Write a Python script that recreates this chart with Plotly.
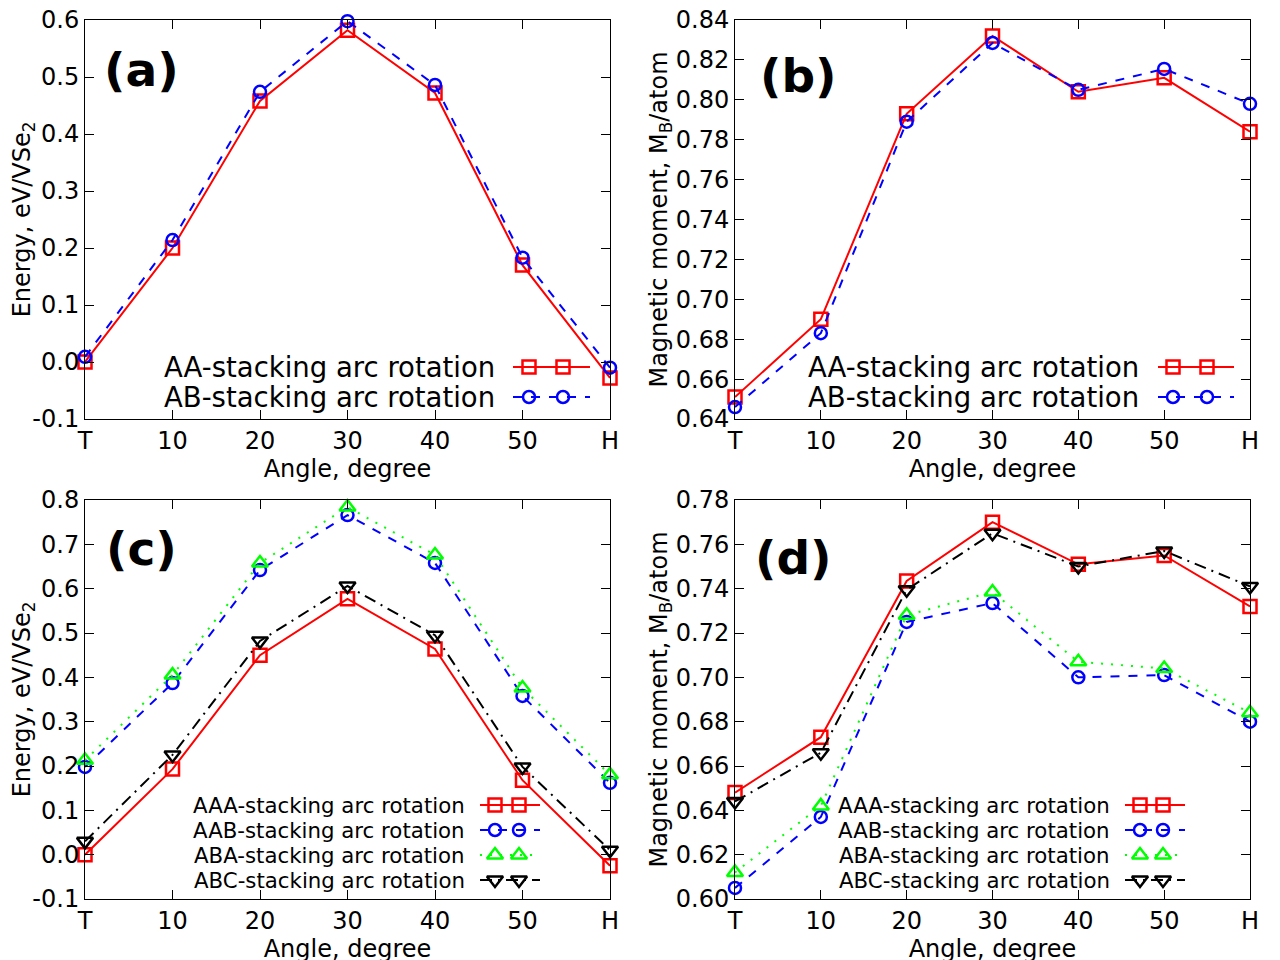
import plotly.graph_objects as go

# ---------------- data ----------------
angles = ["T", "10", "20", "30", "40", "50", "H"]

a_AA = [0.000, 0.200, 0.458, 0.582, 0.472, 0.170, -0.028]
a_AB = [0.009, 0.214, 0.474, 0.598, 0.486, 0.183, -0.010]

b_AA = [0.651, 0.690, 0.793, 0.832, 0.804, 0.811, 0.784]
b_AB = [0.646, 0.683, 0.789, 0.8285, 0.805, 0.8155, 0.798]

c_AAA = [0.000, 0.193, 0.450, 0.577, 0.464, 0.168, -0.025]
c_AAB = [0.198, 0.387, 0.642, 0.766, 0.658, 0.358, 0.162]
c_ABA = [0.213, 0.405, 0.658, 0.784, 0.676, 0.376, 0.180]
c_ABC = [0.030, 0.225, 0.482, 0.606, 0.495, 0.198, 0.010]

d_AAA = [0.648, 0.673, 0.7435, 0.770, 0.751, 0.755, 0.732]
d_AAB = [0.605, 0.637, 0.725, 0.7335, 0.700, 0.701, 0.680]
d_ABA = [0.612, 0.642, 0.728, 0.7385, 0.707, 0.704, 0.684]
d_ABC = [0.644, 0.666, 0.7395, 0.765, 0.750, 0.757, 0.741]

energy_ticks_ab = [-0.1, 0.0, 0.1, 0.2, 0.3, 0.4, 0.5, 0.6]
energy_labels_ab = ["-0.1", "0.0", "0.1", "0.2", "0.3", "0.4", "0.5", "0.6"]
moment_ticks_b = [0.64, 0.66, 0.68, 0.70, 0.72, 0.74, 0.76, 0.78, 0.80, 0.82, 0.84]
moment_labels_b = ["0.64", "0.66", "0.68", "0.70", "0.72", "0.74", "0.76", "0.78", "0.80", "0.82", "0.84"]
energy_ticks_c = [-0.1, 0.0, 0.1, 0.2, 0.3, 0.4, 0.5, 0.6, 0.7, 0.8]
energy_labels_c = ["-0.1", "0.0", "0.1", "0.2", "0.3", "0.4", "0.5", "0.6", "0.7", "0.8"]
moment_ticks_d = [0.60, 0.62, 0.64, 0.66, 0.68, 0.70, 0.72, 0.74, 0.76, 0.78]
moment_labels_d = ["0.60", "0.62", "0.64", "0.66", "0.68", "0.70", "0.72", "0.74", "0.76", "0.78"]

names_2 = ["AA-stacking arc rotation", "AB-stacking arc rotation"]
names_3 = ["AAA-stacking arc rotation", "AAB-stacking arc rotation",
           "ABA-stacking arc rotation", "ABC-stacking arc rotation"]

# ---------------- styles ----------------
W, H = 1280, 960
OFF = 8                      # default body margin of the html page
FONT = "DejaVu Sans"
STY = [
    dict(color="#ff0000", dash="solid", symbol="square-open", size=13),
    dict(color="#0000ff", dash="9px,9px", symbol="circle-open", size=12),
    dict(color="#00ff00", dash="2px,8px", symbol="triangle-up-open", size=14),
    dict(color="#000000", dash="12px,6px,2px,6px", symbol="triangle-down-open", size=14),
]

def px_x(x):
    return (x - OFF) / W

def px_y(y):
    return 1 - (y - OFF) / H

fig = go.Figure()

panels = [
    dict(ax="", series=[a_AA, a_AB], names=names_2, dom_x=(85, 610), dom_y=(20, 419),
         yr=(-0.1, 0.6), tv=energy_ticks_ab, tt=energy_labels_ab,
         ytitle="Energy, eV/VSe<sub>2</sub>", label="(a)", lab_xy=(141, 70),
         leg=dict(tx=497, rows=[367, 397], fs=27.5, l0=513, l1=590, m=[529, 563])),
    dict(ax="2", series=[b_AA, b_AB], names=names_2, dom_x=(735, 1250), dom_y=(20, 419),
         yr=(0.64, 0.84), tv=moment_ticks_b, tt=moment_labels_b,
         ytitle="Magnetic moment, M<sub>B</sub>/atom", label="(b)", lab_xy=(798, 76),
         leg=dict(tx=1141, rows=[367, 397], fs=27.5, l0=1158, l1=1234, m=[1173, 1207])),
    dict(ax="3", series=[c_AAA, c_AAB, c_ABA, c_ABC], names=names_3, dom_x=(85, 610), dom_y=(500, 899),
         yr=(-0.1, 0.8), tv=energy_ticks_c, tt=energy_labels_c,
         ytitle="Energy, eV/VSe<sub>2</sub>", label="(c)", lab_xy=(141, 548),
         leg=dict(tx=467, rows=[805, 830, 855, 880], fs=21.3, l0=480, l1=540, m=[495, 519])),
    dict(ax="4", series=[d_AAA, d_AAB, d_ABA, d_ABC], names=names_3, dom_x=(735, 1250), dom_y=(500, 899),
         yr=(0.60, 0.78), tv=moment_ticks_d, tt=moment_labels_d,
         ytitle="Magnetic moment, M<sub>B</sub>/atom", label="(d)", lab_xy=(793, 557),
         leg=dict(tx=1112, rows=[805, 830, 855, 880], fs=21.3, l0=1125, l1=1185, m=[1140, 1163])),
]

layout_axes = {}
annotations = []

for p in panels:
    xa = "x" + p["ax"]
    ya = "y" + p["ax"]
    for s, (vals, name) in enumerate(zip(p["series"], p["names"])):
        st = STY[s]
        fig.add_trace(go.Scatter(
            x=angles, y=vals, name=name, mode="lines+markers",
            xaxis=xa, yaxis=ya, cliponaxis=False, showlegend=False,
            line=dict(color=st["color"], width=2, dash=st["dash"]),
            marker=dict(symbol=st["symbol"], size=st["size"], color=st["color"],
                        line=dict(color=st["color"], width=2.5)),
        ))
    axis_common = dict(
        showline=True, linecolor="black", linewidth=1, mirror="allticks",
        ticks="inside", ticklen=9, tickwidth=1, tickcolor="black",
        showgrid=False, zeroline=False, automargin=False, ticklabeloverflow="allow",
        tickfont=dict(family=FONT, size=24, color="black"),
    )
    layout_axes["xaxis" + p["ax"]] = dict(
        axis_common, type="category", range=[0, 6],
        domain=[px_x(p["dom_x"][0]), px_x(p["dom_x"][1])],
        anchor=ya,
        title=dict(text="Angle, degree", font=dict(family=FONT, size=24, color="black"), standoff=0),
    )
    layout_axes["yaxis" + p["ax"]] = dict(
        axis_common, range=list(p["yr"]), tickvals=p["tv"], ticktext=p["tt"],
        domain=[px_y(p["dom_y"][1]), px_y(p["dom_y"][0])],
        anchor=xa,
        title=dict(text=p["ytitle"], font=dict(family=FONT, size=24, color="black"), standoff=0),
    )
    # panel label
    annotations.append(dict(
        text="<b>%s</b>" % p["label"], xref="paper", yref="paper",
        x=px_x(p["lab_xy"][0]), y=px_y(p["lab_xy"][1]), xanchor="center", yanchor="middle",
        showarrow=False, font=dict(family=FONT, size=47, color="black"),
    ))
    # custom legend (text right-aligned, sample on the right)
    lg = p["leg"]
    for s, name in enumerate(p["names"]):
        st = STY[s]
        ry = lg["rows"][s]
        annotations.append(dict(
            text=name, xref="paper", yref="paper", x=px_x(lg["tx"]), y=px_y(ry),
            xanchor="right", yanchor="middle", showarrow=False,
            font=dict(family=FONT, size=lg["fs"], color="black"),
        ))
        fig.add_trace(go.Scatter(
            x=[lg["l0"], lg["l1"]], y=[ry, ry], mode="lines", xaxis="x5", yaxis="y5",
            showlegend=False, hoverinfo="skip",
            line=dict(color=st["color"], width=2, dash=st["dash"]),
        ))
        fig.add_trace(go.Scatter(
            x=lg["m"], y=[ry, ry], mode="markers", xaxis="x5", yaxis="y5",
            showlegend=False, hoverinfo="skip", cliponaxis=False,
            marker=dict(symbol=st["symbol"], size=st["size"], color=st["color"],
                        line=dict(color=st["color"], width=2.5)),
        ))

# overlay axes in page-pixel units for the legend key glyphs
layout_axes["xaxis5"] = dict(domain=[0, 1], range=[OFF, OFF + W], visible=False, anchor="y5",
                             fixedrange=True, automargin=False)
layout_axes["yaxis5"] = dict(domain=[0, 1], range=[OFF + H, OFF], visible=False, anchor="x5",
                             fixedrange=True, automargin=False)

fig.update_layout(
    width=W, height=H,
    margin=dict(l=0, r=0, t=0, b=0, pad=0, autoexpand=False),
    paper_bgcolor="white", plot_bgcolor="rgba(0,0,0,0)",
    font=dict(family=FONT, color="black"),
    annotations=annotations,
    showlegend=False,
    **layout_axes,
)

fig.write_html("out.html")
